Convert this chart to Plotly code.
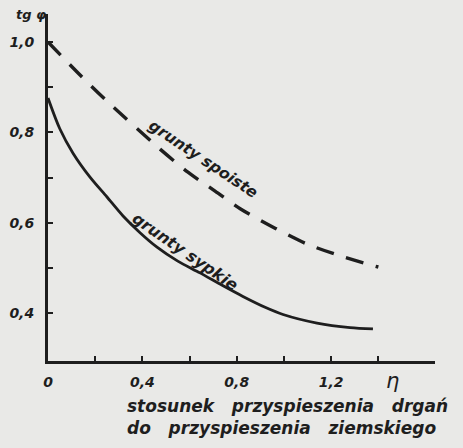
import plotly.graph_objects as go

# data
eta_spoiste = [0.0, 0.136, 0.254, 0.475, 0.593, 0.708, 0.818, 0.962, 1.097, 1.237, 1.364, 1.40]
tg_spoiste = [1.0, 0.927, 0.867, 0.763, 0.712, 0.670, 0.630, 0.588, 0.553, 0.527, 0.507, 0.502]

eta_sypkie = [0.0, 0.05, 0.106, 0.178, 0.25, 0.318, 0.39, 0.462, 0.55, 0.644, 0.74, 0.826,
              0.92, 0.996, 1.14, 1.28, 1.377]
tg_sypkie = [0.876, 0.808, 0.754, 0.701, 0.657, 0.615, 0.578, 0.546, 0.515, 0.489, 0.461, 0.437,
             0.413, 0.397, 0.378, 0.368, 0.365]

y_tickvals = [0.4, 0.5, 0.6, 0.7, 0.8, 0.9, 1.0]
y_ticktext = ["0,4", "", "0,6", "", "0,8", "", "1,0"]
x_tickvals = [0.0, 0.2, 0.4, 0.6, 0.8, 1.0, 1.2, 1.4]
x_ticktext = ["0", "", "0,4", "", "0,8", "", "1,2", ""]

ink = "#1e1e1e"
bg = "#e9e9e7"
fnt = dict(family="DejaVu Sans", size=14, color=ink, style="italic", weight="bold")

fig = go.Figure()
fig.add_trace(go.Scatter(x=eta_spoiste, y=tg_spoiste, mode="lines",
                         line=dict(color=ink, width=3.4, dash="18px,13px", shape="spline",
                                   smoothing=0.8),
                         showlegend=False, hoverinfo="skip"))
fig.add_trace(go.Scatter(x=eta_sypkie, y=tg_sypkie, mode="lines",
                         line=dict(color=ink, width=2.8, shape="spline", smoothing=0.8),
                         showlegend=False, hoverinfo="skip"))

fig.add_annotation(x=0.657, y=0.742, text="grunty spoiste", showarrow=False,
                   textangle=33.7, font=dict(fnt, size=15.5))
fig.add_annotation(x=0.58, y=0.536, text="grunty sypkie", showarrow=False,
                   textangle=34.6, font=dict(fnt, size=16))
fig.add_annotation(xref="paper", yref="paper", x=-0.044, y=1.0, text="tg φ",
                   showarrow=False, xanchor="center", yanchor="middle", font=dict(fnt, size=13))
fig.add_annotation(xref="x", yref="paper", x=1.46, y=-0.058, text="η",
                   showarrow=False, xanchor="center", yanchor="middle",
                   font=dict(fnt, size=21, weight="normal"))
fig.add_annotation(xref="paper", yref="paper", x=0.2, y=-0.095,
                   text="stosunek   przyspieszenia   drgań<br>do   przyspieszenia   ziemskiego",
                   showarrow=False, xanchor="left", yanchor="top", align="left",
                   font=dict(fnt, size=17))

fig.update_xaxes(range=[0, 1.64], showgrid=False, zeroline=False, showline=True,
                 linecolor=ink, linewidth=3, ticks="inside", ticklen=5, tickwidth=2,
                 tickcolor=ink, tickvals=x_tickvals, ticktext=x_ticktext,
                 tickfont=fnt, ticklabelstandoff=6, automargin=False)
fig.update_yaxes(range=[0.294, 1.062], showgrid=False, zeroline=False, showline=True,
                 linecolor=ink, linewidth=3, ticks="inside", ticklen=5, tickwidth=2,
                 tickcolor=ink, tickvals=y_tickvals, ticktext=y_ticktext,
                 tickfont=fnt, ticklabelstandoff=8, automargin=False)

fig.update_layout(width=463, height=448, margin=dict(l=48, r=28, t=14, b=87),
                  paper_bgcolor=bg, plot_bgcolor=bg)

fig.write_html("out.html", config={"displayModeBar": False},
               post_script="document.body.style.margin='0';"
                           "document.body.style.background='" + bg + "';")
